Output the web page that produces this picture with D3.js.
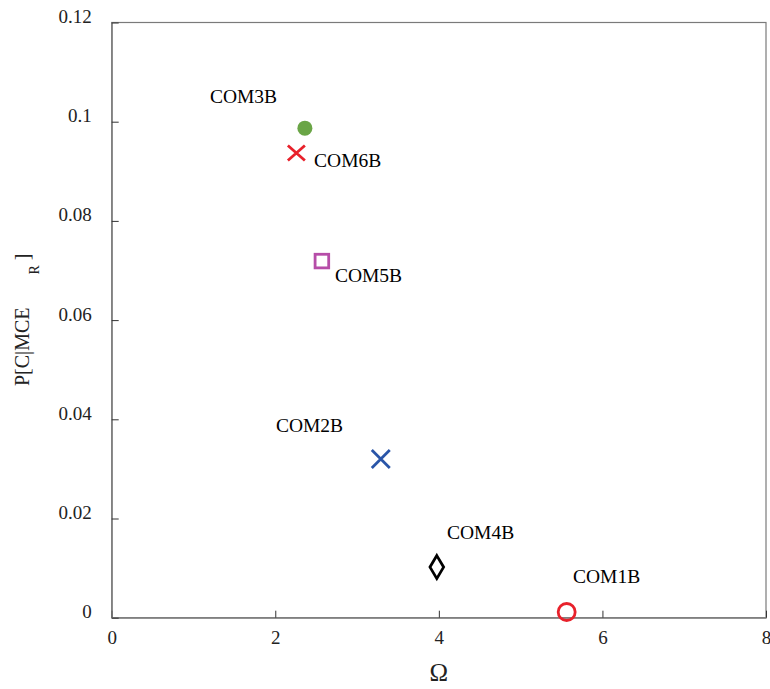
<!DOCTYPE html>
<html><head><meta charset="utf-8">
<script src="https://cdn.jsdelivr.net/npm/d3@7"></script>
<style>body{margin:0;background:#fff}svg{display:block}</style>
</head><body>
<svg id="c" width="770" height="689"></svg>
<script>
const names = ["COM1B","COM2B","COM3B","COM4B","COM5B","COM6B"];
const omega = [5.563, 3.29, 2.362, 3.975, 2.57, 2.258];
const prob = [0.00115, 0.0320, 0.0987, 0.0102, 0.0719, 0.0937];
const labelX = [5.64, 2.008, 1.201, 4.10, 2.729, 2.475];
const labelY = [0.00694, 0.0374, 0.1038, 0.0158, 0.0676, 0.0908];
const markers = ["circle","x","dot","diamond","square","x"];
const colors = ["#e8212b","#2a55a8","#6aa546","#000000","#b64da8","#e8212b"];
const xTicks = [0,2,4,6,8];
const yTicks = [0,0.02,0.04,0.06,0.08,0.1,0.12];

const FONT = "'Liberation Serif','Times New Roman',serif";
const svg = d3.select("#c");
const L = 111.7, R = 766, T = 22.5, B = 617.7;
const x = d3.scaleLinear().domain([0,8]).range([L,R]);
const y = d3.scaleLinear().domain([0,0.12]).range([B,T]);

svg.append("rect").attr("x",L).attr("y",T).attr("width",R-L).attr("height",B-T)
  .attr("fill","none").attr("stroke","#7a7a7a").attr("stroke-width",1.2);

const xAxis = svg.append("g").attr("transform",`translate(0,${B})`)
  .call(d3.axisBottom(x).tickValues(xTicks).tickSizeInner(-7).tickSizeOuter(0).tickPadding(13).tickFormat(d3.format("d")));
const yAxis = svg.append("g").attr("transform",`translate(${L},0)`)
  .call(d3.axisLeft(y).tickValues(yTicks).tickSizeInner(-7).tickSizeOuter(0).tickPadding(20).tickFormat(d=>d===0?"0":String(+d.toFixed(2))));
[xAxis,yAxis].forEach(g=>{
  g.attr("font-family",null);
  g.select(".domain").attr("stroke","#7a7a7a").attr("stroke-width",1.2);
  g.selectAll(".tick line").attr("stroke","#333").attr("stroke-width",1);
  g.selectAll(".tick text").attr("font-size",19).style("font-family",FONT).attr("fill","#222");
});
yAxis.selectAll(".tick text").attr("dy","0");
xAxis.selectAll(".tick text").attr("dy","0.71em");

const g = svg.append("g");
names.forEach((n,i)=>{
  const cx = x(omega[i]), cy = y(prob[i]), c = colors[i], m = markers[i];
  if(m==="dot"){
    g.append("circle").attr("cx",cx).attr("cy",cy).attr("r",7.5).attr("fill",c);
  } else if(m==="circle"){
    g.append("circle").attr("cx",cx).attr("cy",cy).attr("r",8.5).attr("fill","none").attr("stroke",c).attr("stroke-width",2.8);
  } else if(m==="square"){
    g.append("rect").attr("x",cx-6.8).attr("y",cy-6.8).attr("width",13.6).attr("height",13.6).attr("fill","none").attr("stroke",c).attr("stroke-width",2.8);
  } else if(m==="diamond"){
    g.append("path").attr("d",`M${cx},${cy-11.5}L${cx+6.8},${cy}L${cx},${cy+11.5}L${cx-6.8},${cy}Z`).attr("fill","none").attr("stroke",c).attr("stroke-width",2.8);
  } else if(m==="x"){
    const s = i===1?9:8.5, h = i===1?9:7.5;
    g.append("path").attr("d",`M${cx-s},${cy-h}L${cx+s},${cy+h}M${cx-s},${cy+h}L${cx+s},${cy-h}`).attr("stroke",c).attr("stroke-width",2.8).attr("fill","none");
  }
  g.append("text").attr("x",x(labelX[i])).attr("y",y(labelY[i])).attr("font-size",19.5).style("font-family",FONT).text(n);
});

svg.append("text").attr("x",(L+R)/2).attr("y",681).attr("text-anchor","middle").attr("font-size",25).style("font-family",FONT).attr("fill","#222").text("Ω");
const yl = svg.append("text").attr("transform","translate(28.5,386) rotate(-90)").attr("font-size",20).style("font-family",FONT).attr("fill","#222");
yl.append("tspan").text("P[C|MCE");
yl.append("tspan").attr("dx",33).attr("dy",10).attr("font-size",14).text("R");
yl.append("tspan").attr("dx",5).attr("dy",-10).text("]");
</script>
</body></html>
